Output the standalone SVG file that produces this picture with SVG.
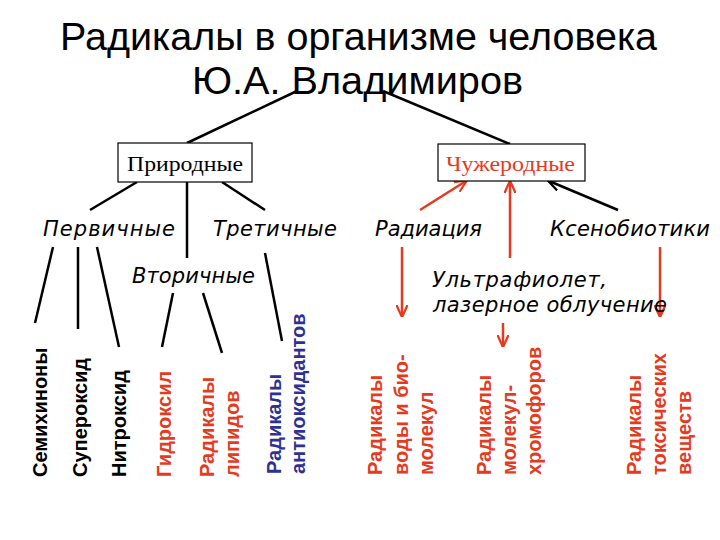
<svg xmlns="http://www.w3.org/2000/svg" width="720" height="540" viewBox="0 0 720 540">
<style>
.title{font-family:"Liberation Sans",Arial,sans-serif;font-size:38px;fill:#000}
.box{fill:#fff;stroke:#000;stroke-width:1.2}
.boxt{font-family:"Liberation Serif","Times New Roman",serif;font-size:22px}
.hand{font-family:"DejaVu Sans","Liberation Sans",sans-serif;font-style:italic;font-size:21px;fill:#000}
.leaf{font-family:"Liberation Sans",Arial,sans-serif;font-weight:bold;font-size:20px}
.blk{fill:#000}.red{fill:#E53A1E}.navy{fill:#2E3192}
.ln{stroke:#000;stroke-width:2.5;fill:none}
.rl{stroke:#E53A1E;stroke-width:2.5;fill:none}
</style>
<defs>
<marker id="ar" viewBox="0 0 10 10" refX="9" refY="5" markerWidth="5" markerHeight="5" orient="auto" markerUnits="strokeWidth">
<path d="M0,0.5 L10,5 L0,9.5" fill="none" stroke="#E53A1E" stroke-width="1.8"/>
</marker>
<marker id="ak" viewBox="0 0 10 10" refX="9" refY="5" markerWidth="5" markerHeight="5" orient="auto" markerUnits="strokeWidth">
<path d="M0,0.5 L10,5 L0,9.5" fill="none" stroke="#000" stroke-width="1.8"/>
</marker>
</defs>
<g id="title">
<text class="title" x="60" y="50" textLength="597" lengthAdjust="spacingAndGlyphs">Радикалы в организме человека</text>
<text class="title" x="192" y="94" textLength="331" lengthAdjust="spacingAndGlyphs">Ю.А. Владимиров</text>
</g>
<g id="connectors">
<line class="ln" x1="297" y1="91" x2="187" y2="143"/>
<line class="ln" x1="383" y1="91" x2="510" y2="144"/>
<line class="ln" x1="137" y1="182" x2="90" y2="210"/>
<line class="ln" x1="187" y1="182" x2="187" y2="258"/>
<line class="ln" x1="222" y1="182" x2="265" y2="210"/>
<line class="ln" x1="53" y1="247" x2="35" y2="323"/>
<line class="ln" x1="78" y1="247" x2="78" y2="329"/>
<line class="ln" x1="97" y1="247" x2="119" y2="347"/>
<line class="ln" x1="173" y1="293" x2="162" y2="347"/>
<line class="ln" x1="203" y1="293" x2="222" y2="353"/>
<line class="ln" x1="265" y1="253" x2="282" y2="341"/>
<line class="rl" x1="420" y1="210" x2="466" y2="181" marker-end="url(#ar)"/>
<line class="rl" x1="510" y1="258" x2="510" y2="182" marker-end="url(#ar)"/>
<line class="ln" x1="618" y1="210" x2="549" y2="181" marker-end="url(#ak)"/>
<line class="rl" x1="402" y1="247" x2="402" y2="316" marker-end="url(#ar)"/>
<line class="rl" x1="660" y1="247" x2="660" y2="316" marker-end="url(#ar)"/>
<line class="rl" x1="503" y1="323" x2="503" y2="346" marker-end="url(#ar)"/>
</g>
<g id="prirodnye">
<rect class="box" x="118" y="143" width="134" height="39"/>
<text class="boxt blk" x="127" y="171" textLength="116" lengthAdjust="spacingAndGlyphs">Природные</text>
</g>
<g id="chuzherodnye">
<rect class="box" x="438" y="144" width="147" height="37"/>
<text class="boxt red" x="446" y="171" textLength="129" lengthAdjust="spacingAndGlyphs">Чужеродные</text>
</g>
<g id="pervichnye"><text class="hand" x="43" y="236" textLength="132" lengthAdjust="spacing">Первичные</text></g>
<g id="tretichnye"><text class="hand" x="213" y="236" textLength="124" lengthAdjust="spacing">Третичные</text></g>
<g id="vtorichnye"><text class="hand" x="132" y="283" textLength="123" lengthAdjust="spacing">Вторичные</text></g>
<g id="radiatsiya"><text class="hand" x="375" y="236" textLength="107" lengthAdjust="spacing">Радиация</text></g>
<g id="ksenobiotiki"><text class="hand" x="550" y="236" textLength="160" lengthAdjust="spacing">Ксенобиотики</text></g>
<g id="ultrafiolet">
<text class="hand" x="432" y="287" textLength="175" lengthAdjust="spacing">Ультрафиолет,</text>
<text class="hand" x="433" y="312" textLength="234" lengthAdjust="spacing">лазерное облучение</text>
</g>
<g id="semikhinony"><text class="leaf blk" transform="translate(47,477) rotate(-90)">Семихиноны</text></g>
<g id="superoksid"><text class="leaf blk" transform="translate(87,477) rotate(-90)">Супероксид</text></g>
<g id="nitroksid"><text class="leaf blk" transform="translate(126,477) rotate(-90)">Нитроксид</text></g>
<g id="gidroksil"><text class="leaf red" transform="translate(171,477) rotate(-90)">Гидроксил</text></g>
<g id="rad-lipidov"><text class="leaf red" transform="translate(214,477) rotate(-90)"><tspan x="0" y="0">Радикалы</tspan><tspan x="0" dy="25">липидов</tspan></text></g>
<g id="rad-antioks"><text class="leaf navy" transform="translate(281,474) rotate(-90)"><tspan x="0" y="0">Радикалы</tspan><tspan x="0" dy="24">антиоксидантов</tspan></text></g>
<g id="rad-vody"><text class="leaf red" transform="translate(382,475) rotate(-90)"><tspan x="0" y="0">Радикалы</tspan><tspan x="0" dy="26">воды и био-</tspan><tspan x="0" dy="25">молекул</tspan></text></g>
<g id="rad-khromofor"><text class="leaf red" transform="translate(491,475) rotate(-90)"><tspan x="0" y="0">Радикалы</tspan><tspan x="0" dy="25">молекул-</tspan><tspan x="0" dy="25">хромофоров</tspan></text></g>
<g id="rad-toksich"><text class="leaf red" transform="translate(641,475) rotate(-90)"><tspan x="0" y="0">Радикалы</tspan><tspan x="0" dy="25">токсических</tspan><tspan x="0" dy="25">веществ</tspan></text></g>
</svg>
